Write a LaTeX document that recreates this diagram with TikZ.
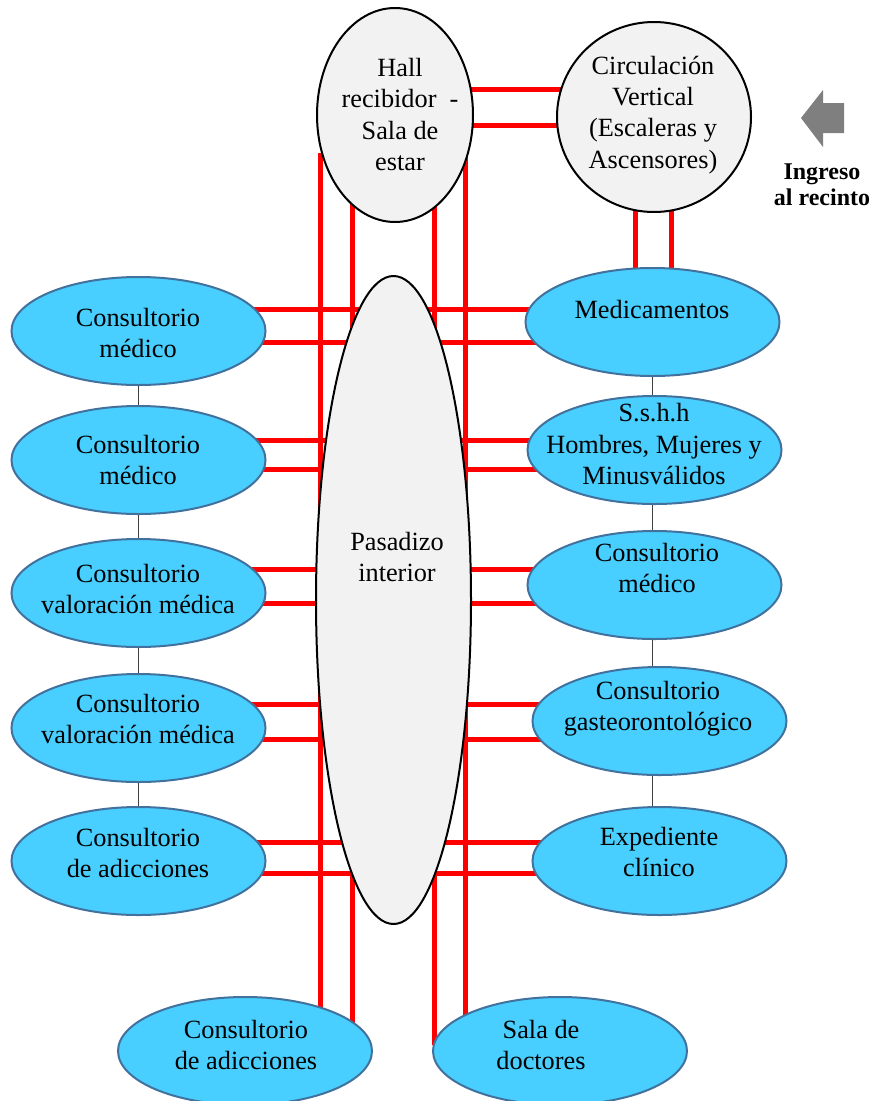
\documentclass[tikz,border=0pt]{standalone}
\usepackage{fontspec}
\setmainfont{Liberation Serif}
\usetikzlibrary{shapes.geometric,backgrounds}
\definecolor{cellblue}{RGB}{72,207,255}
\definecolor{cellborder}{RGB}{65,113,156}
\definecolor{hallgray}{RGB}{242,242,242}
\definecolor{arrowgray}{RGB}{127,127,127}
\definecolor{linkgray}{RGB}{64,64,64}
\begin{document}
\begin{tikzpicture}[x=1pt,y=-1pt,
  bluecell/.style={ellipse, draw=cellborder, line width=2pt, fill=cellblue,
    minimum width=254pt, minimum height=108pt, inner sep=0pt},
  graycell/.style={ellipse, draw=black, line width=2pt, fill=hallgray, inner sep=0pt},
  txt/.style={align=center, inner sep=0pt, font=\fontsize{26.3}{31.2}\selectfont},
  redline/.style={draw=red, line width=5pt},
  link/.style={draw=linkgray, line width=1pt}]
\useasboundingbox (0,0) rectangle (877,1101);

% gray ellipses
\node[graycell, minimum width=156pt, minimum height=214pt] (hall) at (395,115) {};
\node[txt] (hallt) at (400,114.5) {Hall\\recibidor\ \ -\\Sala de\\estar};
\node[graycell, minimum width=194pt, minimum height=190pt] (circ) at (654,117) {};
\node[txt] (circt) at (653,115) {Circulación\\Vertical\\(Escaleras y\\Ascensores)};
\node[graycell, minimum width=155pt, minimum height=648pt] (pas) at (393.5,600) {};
\node[txt] (past) at (397,557) {Pasadizo\\interior};

% left column
\node[bluecell] (l1) at (138.5,331) {};
\node[txt] (l1t) at (138,333) {Consultorio\\médico};
\node[bluecell] (l2) at (138.5,460) {};
\node[txt] (l2t) at (138,460) {Consultorio\\médico};
\node[bluecell] (l3) at (138.5,593) {};
\node[txt] (l3t) at (138,589) {Consultorio\\valoración médica};
\node[bluecell] (l4) at (138.5,728) {};
\node[txt] (l4t) at (138,719) {Consultorio\\valoración médica};
\node[bluecell] (l5) at (138.5,861) {};
\node[txt] (l5t) at (138,853) {Consultorio\\de adicciones};

% right column
\node[bluecell] (r1) at (652.5,322) {};
\node[txt] (r1t) at (652,309) {Medicamentos};
\node[bluecell] (r2) at (654.5,450) {};
\node[txt] (r2t) at (654,444) {S.s.h.h\\Hombres, Mujeres y\\Minusválidos};
\node[bluecell] (r3) at (654.5,585) {};
\node[txt] (r3t) at (657,568) {Consultorio\\médico};
\node[bluecell] (r4) at (659.5,721) {};
\node[txt] (r4t) at (658,709) {Consultorio\\gasteorontológico};
\node[bluecell] (r5) at (659.5,861) {};
\node[txt] (r5t) at (659,852) {Expediente\\clínico};

% bottom
\node[bluecell] (b1) at (245,1051) {};
\node[txt] (b1t) at (246,1045) {Consultorio\\de adicciones};
\node[bluecell] (b2) at (560,1051) {};
\node[txt] (b2t) at (541,1045) {Sala de\\doctores};

% entrance arrow
\fill[arrowgray] (801,118) -- (823,90) -- (823,103) -- (844,103) -- (844,133)
  -- (823,133) -- (823,147) -- cycle;
\node[align=center, inner sep=0pt, font=\bfseries\fontsize{24}{26}\selectfont] (ingreso)
  at (822,185) {Ingreso\\al recinto};

% free ends
\coordinate (vA) at (320,153);
\coordinate (vD) at (465,155);
\coordinate (vCend) at (434,1045);

\begin{pgfonlayer}{background}
  % hall - circulation
  \draw[redline] (hall.center |- 0,89) -- (circ.center |- 0,89);
  \draw[redline] (hall.center |- 0,125) -- (circ.center |- 0,125);
  % circulation - medicamentos
  \draw[redline] (circ.center -| 635,0) -- (r1.center -| 635,0);
  \draw[redline] (circ.center -| 671,0) -- (r1.center -| 671,0);
  % verticals
  \draw[redline] (vA) -- (vA |- b1.center);
  \draw[redline] (hall.center -| 352,0) -- (b1.center -| 352,0);
  \draw[redline] (hall.center -| 434,0) -- (vCend);
  \draw[redline] (vD) -- (vD |- b2.center);
  % horizontal pairs
  \draw[redline] (l1.center |- 0,309) -- (r1.center |- 0,309);
  \draw[redline] (l1.center |- 0,342) -- (r1.center |- 0,342);
  \draw[redline] (l2.center |- 0,440) -- (r2.center |- 0,440);
  \draw[redline] (l2.center |- 0,469) -- (r2.center |- 0,469);
  \draw[redline] (l3.center |- 0,569) -- (r3.center |- 0,569);
  \draw[redline] (l3.center |- 0,603) -- (r3.center |- 0,603);
  \draw[redline] (l4.center |- 0,704) -- (r4.center |- 0,704);
  \draw[redline] (l4.center |- 0,739) -- (r4.center |- 0,739);
  \draw[redline] (l5.center |- 0,842) -- (r5.center |- 0,842);
  \draw[redline] (l5.center |- 0,873) -- (r5.center |- 0,873);
  % thin links
  \draw[link] (l1) -- (l2);
  \draw[link] (l2) -- (l3);
  \draw[link] (l3) -- (l4);
  \draw[link] (l4) -- (l5);
  \draw[link] (r1.center) -- (r1.center |- r2.center);
  \draw[link] (r2.center -| r1.center) -- (r1.center |- r3.center);
  \draw[link] (r3.center -| r1.center) -- (r1.center |- r4.center);
  \draw[link] (r4.center -| r1.center) -- (r1.center |- r5.center);
\end{pgfonlayer}
\end{tikzpicture}
\end{document}
